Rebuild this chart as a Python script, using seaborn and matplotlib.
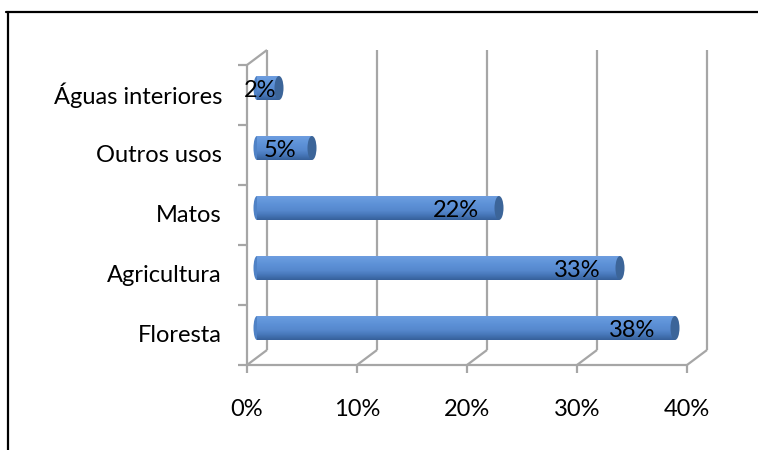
import numpy as np
import pandas as pd
import matplotlib.pyplot as plt
import seaborn as sns
from matplotlib.patches import Ellipse
from matplotlib.lines import Line2D
from matplotlib.colors import LinearSegmentedColormap

# data (top to bottom)
categories = ["Águas interiores", "Outros usos", "Matos", "Agricultura", "Floresta"]
shares = [2, 5, 22, 33, 38]
share_labels = ["2%", "5%", "22%", "33%", "38%"]
x_ticks = [0, 10, 20, 30, 40]
x_tick_labels = ["0%", "10%", "20%", "30%", "40%"]

sns.set_theme(style="white")
plt.rcParams["font.family"] = ["Lato", "DejaVu Sans"]

W, H = 758, 450
fig = plt.figure(figsize=(W / 100, H / 100), dpi=100)
# front plane of the 3d box: 0% at x=247px, 40% at x=687px, y from 65px to 365px
ax = fig.add_axes([247 / W, 85 / H, 440 / W, 300 / H])

df = pd.DataFrame({"uso": categories, "pct": shares})
sns.barplot(data=df, x="pct", y="uso", orient="h", color="#5b8ed4",
            saturation=1, width=0.4, ax=ax)

ax.set_xlim(0, 40)
ax.set_ylim(4.5, -0.5)
for s in ax.spines.values():
    s.set_visible(False)
ax.set_xticks([])
ax.set_yticks([])
ax.set_xlabel("")
ax.set_ylabel("")

# pixel -> data units
px_x = 40 / 440
px_y = 5 / 300
back_dx, back_dy = 20 * px_x, -15 * px_y
mid_dx, mid_dy = 10 * px_x, -7 * px_y

gray = "#a6a6a6"
lw = 1.6
kw = dict(color=gray, lw=lw, clip_on=False, solid_capstyle="butt", zorder=1)

# back wall gridlines
for v in x_ticks:
    ax.plot([v + back_dx] * 2, [4.5 + back_dy, -0.5 + back_dy], **kw)
    # floor diagonals
    ax.plot([v, v + back_dx], [4.5, 4.5 + back_dy], **kw)
    # tick marks under front edge
    ax.plot([v, v], [4.5, 4.5 + 8 * px_y], **kw)

# left wall and front floor edge
ax.plot([0, 0], [4.5, -0.5], **kw)
ax.plot([0, back_dx], [-0.5, -0.5 + back_dy], **kw)
ax.plot([0, 40], [4.5, 4.5], **kw)
for k in range(6):
    ax.plot([-9 * px_x, 0], [k - 0.5, k - 0.5], **kw)

# cylinder shading
cyl = LinearSegmentedColormap.from_list(
    "cyl", ["#6e9de0", "#6397db", "#5b8fd5", "#5688cd", "#4676b8", "#36609a"])
grad = np.linspace(0, 1, 64).reshape(-1, 1)
cap_color = "#3c6599"

for patch in ax.patches:
    patch.set_x(patch.get_x() + mid_dx)
    patch.set_y(patch.get_y() + mid_dy)
    patch.set_edgecolor("none")
    patch.set_zorder(2)
    x0, y0 = patch.get_x(), patch.get_y()
    w, h = patch.get_width(), patch.get_height()
    im = ax.imshow(grad, cmap=cyl, aspect="auto", extent=(x0, x0 + w, y0 + h, y0),
                   zorder=2.1, interpolation="bilinear")
    im.set_clip_path(patch)
    # rounded left end and the right end cap
    ax.add_patch(Ellipse((x0, y0 + h / 2), 7 * px_x, h, facecolor="#4f82c6",
                         edgecolor="none", zorder=1.9))
    ax.add_patch(Ellipse((x0 + w, y0 + h / 2), 9 * px_x, h, facecolor=cap_color,
                         edgecolor="none", zorder=2.3))

ax.set_xlim(0, 40)
ax.set_ylim(4.5, -0.5)

fs = 17
# data labels, placed near the inside end of each bar
for i, (v, lab) in enumerate(zip(shares, share_labels)):
    ax.text(max(v - 3, 0.6 * v), i + mid_dy + 0.04, lab, ha="center", va="center",
            fontsize=fs, color="black", zorder=5)

# category labels
for i, cat in enumerate(categories):
    ax.text(-25 * px_x, i, cat, ha="right", va="center", fontsize=fs,
            color="black", clip_on=False)

# x tick labels
for v, lab in zip(x_ticks, x_tick_labels):
    ax.text(v, 4.5 + 44 * px_y, lab, ha="center", va="center", fontsize=fs,
            color="black", clip_on=False)

# outer frame (top and left edges)
fig.add_artist(Line2D([6 / W, 1], [1 - 12 / H] * 2, transform=fig.transFigure,
                      color="black", lw=1.6))
fig.add_artist(Line2D([7.5 / W] * 2, [0, 1 - 12 / H], transform=fig.transFigure,
                      color="black", lw=1.6))

fig.savefig("out.png", dpi=100)
